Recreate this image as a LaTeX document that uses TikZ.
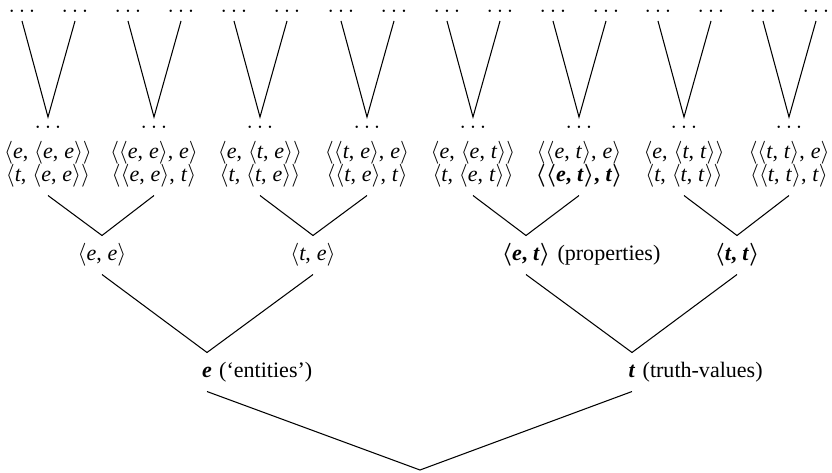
\documentclass[tikz,border=0pt]{standalone}
\usepackage{fontspec}
\setmainfont{Liberation Serif}
\usepackage{tikz}
\usetikzlibrary{positioning}
\newcommand{\E}{\textit{e}}
\newcommand{\T}{\textit{t}}
\newcommand{\ty}[2]{\ensuremath{\langle}#1,\hspace{2.8pt}#2\ensuremath{\rangle}}
\newcommand{\bty}[2]{{\bfseries\boldmath\ensuremath{\langle}#1,\hspace{2.8pt}#2\ensuremath{\rangle}}}
\tikzstyle{branch}=[-, line width=0.5pt, draw=black]
\tikzstyle{dots}=[inner xsep=0pt, inner ysep=4pt, text height=1pt, text depth=0pt]
\tikzstyle{typ}=[inner xsep=2pt, inner ysep=3.8pt, text height=7.9pt, text depth=2.6pt]
\tikzstyle{gloss}=[typ, inner xsep=1pt]

\begin{document}
\begin{tikzpicture}[branch, x=0.4765pt, y=-0.4765pt, font=\fontsize{10.5}{12}\selectfont]
				\useasboundingbox (0,0) rectangle (832,472);

				%The open ends
				\draw (22,11) node[dots] (l1) {$\ldots$};
				\draw (75,11) node[dots] (r1) {$\ldots$};
				\draw (128,11) node[dots] (l2) {$\ldots$};
				\draw (181,11) node[dots] (r2) {$\ldots$};
				\draw (234,11) node[dots] (l3) {$\ldots$};
				\draw (287,11) node[dots] (r3) {$\ldots$};
				\draw (341,11) node[dots] (l4) {$\ldots$};
				\draw (394,11) node[dots] (r4) {$\ldots$};
				\draw (447,11) node[dots] (l5) {$\ldots$};
				\draw (500,11) node[dots] (r5) {$\ldots$};
				\draw (553,11) node[dots] (l6) {$\ldots$};
				\draw (606,11) node[dots] (r6) {$\ldots$};
				\draw (658,11) node[dots] (l7) {$\ldots$};
				\draw (711,11) node[dots] (r7) {$\ldots$};
				\draw (763,11) node[dots] (l8) {$\ldots$};
				\draw (816,11) node[dots] (r8) {$\ldots$};

				\draw (48,127) node[dots] (d1) {$\ldots$};
				\draw (154,127) node[dots] (d2) {$\ldots$};
				\draw (260,127) node[dots] (d3) {$\ldots$};
				\draw (367,127) node[dots] (d4) {$\ldots$};
				\draw (473,127) node[dots] (d5) {$\ldots$};
				\draw (579,127) node[dots] (d6) {$\ldots$};
				\draw (684,127) node[dots] (d7) {$\ldots$};
				\draw (789,127) node[dots] (d8) {$\ldots$};

				%The third level
				\draw (48,153) node[typ] (u1) {\ty{\E}{\ty{\E}{\E}}};
				\draw (48,176) node[typ] (v1) {\ty{\T}{\ty{\E}{\E}}};
				\draw (154,153) node[typ] (u2) {\ty{\ty{\E}{\E}}{\E}};
				\draw (154,176) node[typ] (v2) {\ty{\ty{\E}{\E}}{\T}};
				\draw (260,153) node[typ] (u3) {\ty{\E}{\ty{\T}{\E}}};
				\draw (260,176) node[typ] (v3) {\ty{\T}{\ty{\T}{\E}}};
				\draw (367,153) node[typ] (u4) {\ty{\ty{\T}{\E}}{\E}};
				\draw (367,176) node[typ] (v4) {\ty{\ty{\T}{\E}}{\T}};
				\draw (473,153) node[typ] (u5) {\ty{\E}{\ty{\E}{\T}}};
				\draw (473,176) node[typ] (v5) {\ty{\T}{\ty{\E}{\T}}};
				\draw (579,153) node[typ] (u6) {\ty{\ty{\E}{\T}}{\E}};
				\draw (579,176) node[typ] (v6) {\bty{\ty{\E}{\T}}{\T}};
				\draw (684,153) node[typ] (u7) {\ty{\E}{\ty{\T}{\T}}};
				\draw (684,176) node[typ] (v7) {\ty{\T}{\ty{\T}{\T}}};
				\draw (789,153) node[typ] (u8) {\ty{\ty{\T}{\T}}{\E}};
				\draw (789,176) node[typ] (v8) {\ty{\ty{\T}{\T}}{\T}};

				%The second level
				\draw (102,255) node[typ] (ee) {\ty{\E}{\E}};
				\draw (313,255) node[typ] (te) {\ty{\T}{\E}};
				\draw (526,255) node[typ] (et) {\bty{\E}{\T}};
				\draw (737,255) node[typ] (tt) {\bty{\T}{\T}};
				\node[gloss, right=0pt of et] (etg) {(properties)};

				%The basic types
				\draw (207,372) node[typ] (e) {\textbf{\E}};
				\draw (632,372) node[typ] (t) {\textbf{\T}};
				\node[gloss, right=0pt of e] (eg) {(`entities')};
				\node[gloss, right=0pt of t] (tg) {(truth-values)};
				\coordinate (root) at (420,470);

				\draw (l1.south) -- (d1.north) -- (r1.south);
				\draw (l2.south) -- (d2.north) -- (r2.south);
				\draw (l3.south) -- (d3.north) -- (r3.south);
				\draw (l4.south) -- (d4.north) -- (r4.south);
				\draw (l5.south) -- (d5.north) -- (r5.south);
				\draw (l6.south) -- (d6.north) -- (r6.south);
				\draw (l7.south) -- (d7.north) -- (r7.south);
				\draw (l8.south) -- (d8.north) -- (r8.south);

				\draw (v1.south) -- (ee.north) -- (v2.south);
				\draw (v3.south) -- (te.north) -- (v4.south);
				\draw (v5.south) -- (et.north) -- (v6.south);
				\draw (v7.south) -- (tt.north) -- (v8.south);

				\draw (ee.south) -- (e.north) -- (te.south);
				\draw (et.south) -- (t.north) -- (tt.south);

				\draw (e.south) -- (root) -- (t.south);
			\end{tikzpicture}
\end{document}
